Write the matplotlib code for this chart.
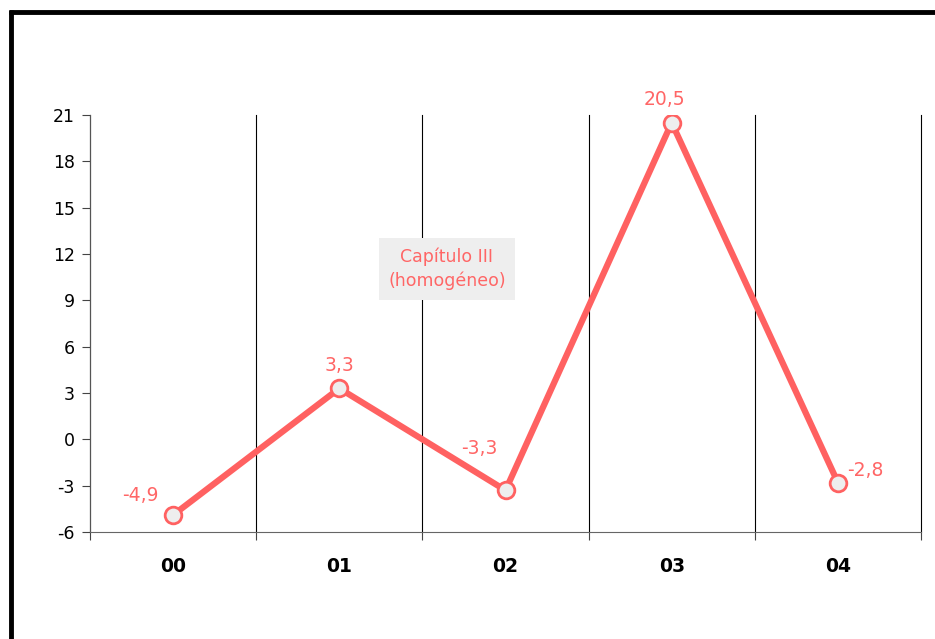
import matplotlib
matplotlib.use("Agg")
import matplotlib.pyplot as plt
from matplotlib.lines import Line2D

categories = ["00", "01", "02", "03", "04"]
values = [-4.9, 3.3, -3.3, 20.5, -2.8]
labels = ["-4,9", "3,3", "-3,3", "20,5", "-2,8"]
yticks = [-6, -3, 0, 3, 6, 9, 12, 15, 18, 21]

plt.rcParams["font.family"] = ["DejaVu Sans"]
red = "#ff6161"

fig = plt.figure(figsize=(9.35, 6.39), dpi=100)
ax = fig.add_axes([90 / 935, 1 - 532 / 639, 831 / 935, 417 / 639])

x = list(range(len(categories)))
ax.plot(x, values, color=red, lw=4.5, solid_capstyle="round", zorder=3)
ax.plot(x, values, "o", ms=12, mfc="#eeeeee", mec=red, mew=2, zorder=4)

# data label offsets in pixels (dx, dy, ha)
offsets = [(-33, 20, "center"), (0, 23, "center"), (-26, 42, "center"), (-7, 23, "center"), (9, 12, "left")]
for xi, v, lab, (dx, dy, ha) in zip(x, values, labels, offsets):
    ax.annotate(lab, (xi, v), xytext=(dx, dy), textcoords="offset pixels",
                ha=ha, va="center", color="#ff6666", fontsize=13.5)

ax.set_xlim(-0.5, len(categories) - 0.5)
ax.set_ylim(-6, 21)
ax.set_yticks(yticks)
ax.set_yticklabels([str(t) for t in yticks], fontsize=12.5)

bounds = [i - 0.5 for i in range(len(categories) + 1)]
ax.set_xticks(bounds)
ax.set_xticklabels([""] * len(bounds))
ax.set_xticks(x, minor=True)
ax.set_xticklabels(categories, minor=True, fontsize=13.5, fontweight="bold")
ax.tick_params(axis="x", which="minor", length=0, pad=18)
ax.tick_params(axis="x", which="major", length=6, color="#444444")
ax.tick_params(axis="y", length=6, color="#444444", pad=5)
ax.grid(axis="x", which="major", color="black", lw=0.8)
for gl in ax.get_xgridlines():
    gl.set_clip_on(False)

for s in ["top", "right"]:
    ax.spines[s].set_visible(False)
ax.spines["left"].set_color("#555555")
ax.spines["bottom"].set_color("#666666")

ax.text(447 / 935, 1 - 269 / 639, "Capítulo III\n(homogéneo)", transform=fig.transFigure,
        ha="center", va="center", color="#ff6666", fontsize=12.5, linespacing=1.4,
        bbox=dict(boxstyle="square,pad=0.55", fc="#eeeeee", ec="none"))

# outer frame
fig.add_artist(Line2D([9 / 935, 1], [1 - 12 / 639, 1 - 12 / 639], color="black", lw=3.5,
                      solid_capstyle="butt", transform=fig.transFigure))
fig.add_artist(Line2D([11 / 935, 11 / 935], [0, 1 - 10 / 639], color="black", lw=3.5,
                      solid_capstyle="butt", transform=fig.transFigure))

fig.savefig("out.png", dpi=100)
